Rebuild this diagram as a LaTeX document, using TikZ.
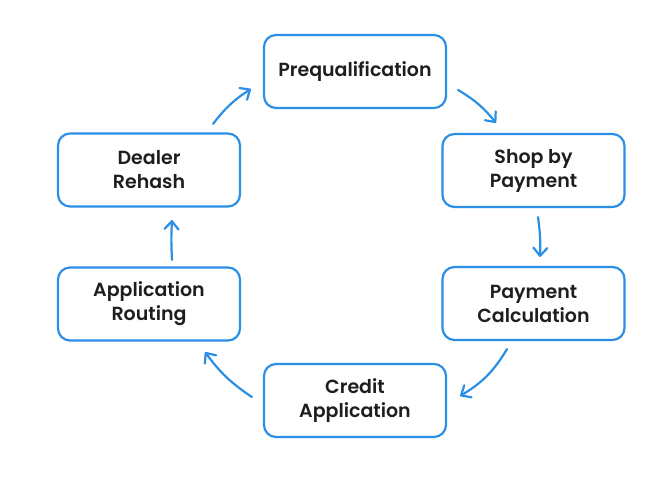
\documentclass[tikz,border=0pt]{standalone}
\usepackage{fontspec}
\setmainfont{Poppins}[BoldFont={Poppins SemiBold}]
\usetikzlibrary{arrows.meta, calc}
\definecolor{flowblue}{HTML}{2B8FE5}
\definecolor{labelgray}{HTML}{1E1E1E}

\begin{document}
\begin{tikzpicture}[x=1pt, y=1pt,
    stage/.style={draw=flowblue, line width=2.2pt, rounded corners=12pt,
      minimum width=182pt, minimum height=73pt, align=center,
      text=labelgray, font=\bfseries\fontsize{19}{24}\selectfont},
    flow/.style={flowblue, line width=2.2pt, line cap=round,
      -{Straight Barb[length=8pt, width=14pt, line cap=round, line join=round]}}]
  \useasboundingbox (0,0) rectangle (670,481);
  % stages of the cycle
  \node[stage] (prequal) at (355,409.5) {Prequalification};
  \node[stage] (shop) at (533.5,310.5) {Shop by\\Payment};
  \node[stage] (calc) at (533.5,177.5) {Payment\\Calculation};
  \node[stage] (credit) at (355,80.5) {Credit\\Application};
  \node[stage] (routing) at (149,177) {Application\\Routing};
  \node[stage] (dealer) at (149,311) {Dealer\\Rehash};
  % arrows, clockwise
  \draw[flow] ($(dealer.north east)+(-28,8.5)$) to[bend left=10] ($(prequal.west)+(-12,-17.5)$);
  \draw[flow] ($(prequal.east)+(11,-18.5)$) to[bend left=10] ($(shop.north)+(-37.5,10)$);
  \draw[flow] ($(shop.south)+(4.5,-9)$) to[bend left=5] ($(calc.north)+(6.5,9)$);
  \draw[flow] ($(calc.south)+(-26.5,-8)$) to[bend left=14] ($(credit.east)+(13,4.5)$);
  \draw[flow] ($(credit.west)+(-11,3.5)$) to[bend left=10] ($(routing.south east)+(-36,-10.5)$);
  \draw[flow] ($(routing.north)+(23,6.5)$) to[bend left=3] ($(dealer.south)+(23,-12.5)$);
\end{tikzpicture}
\end{document}
